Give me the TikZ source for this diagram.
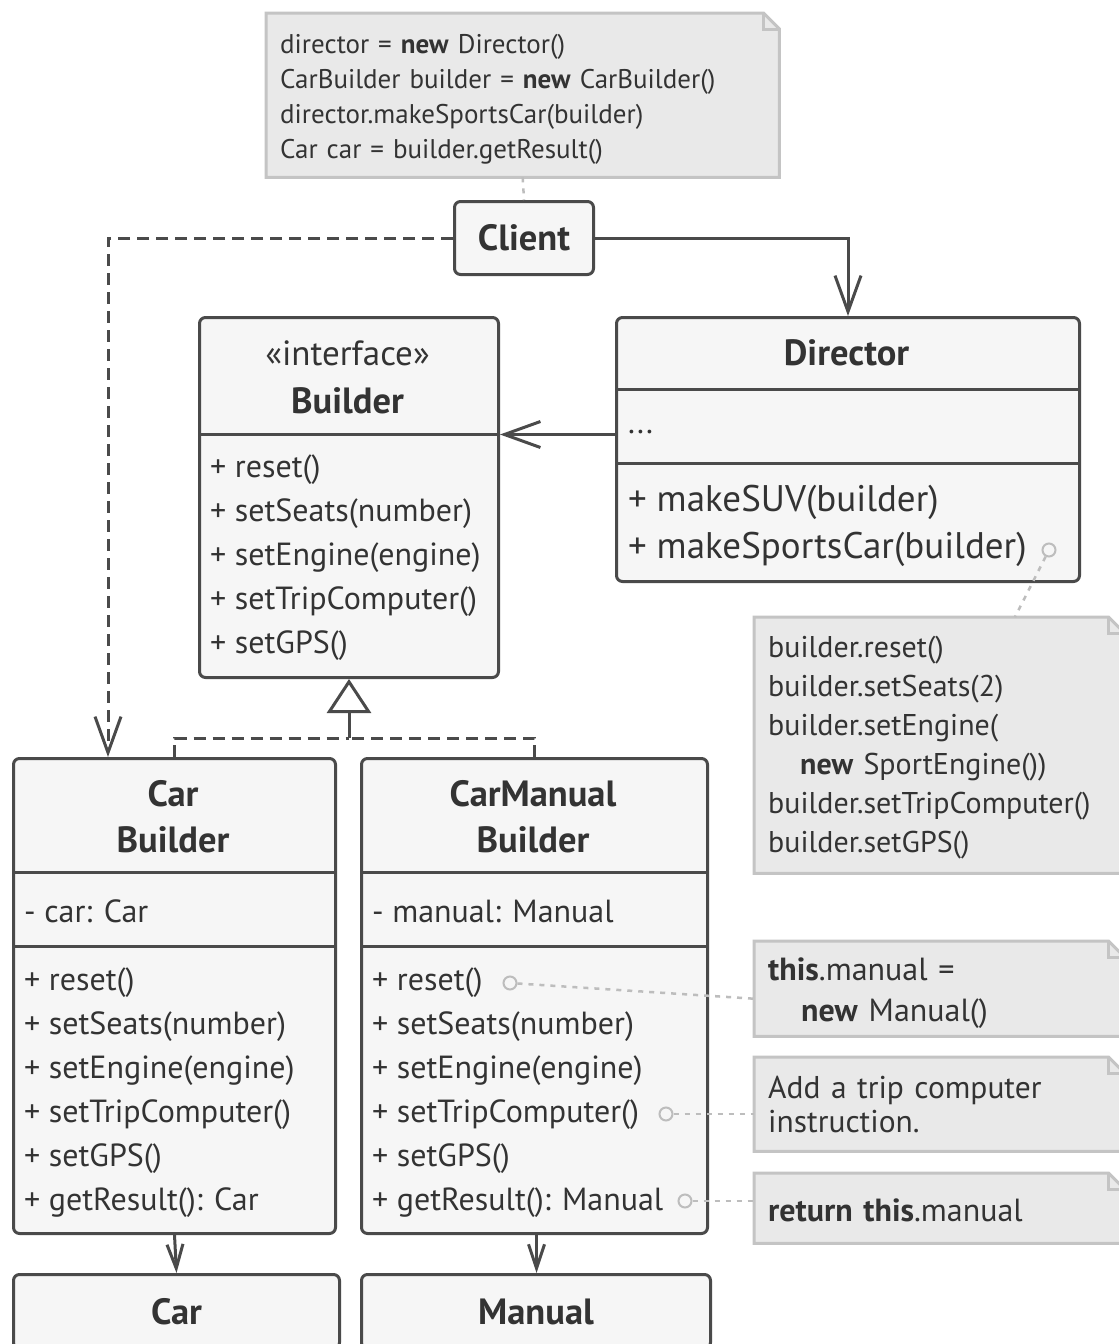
\documentclass[tikz,border=0pt]{standalone}
\usepackage{fontspec}
\setmainfont{PT Sans}
\usetikzlibrary{arrows.meta,calc,backgrounds}
\definecolor{ink}{HTML}{333333}
\definecolor{edge}{HTML}{4A4A4A}
\definecolor{boxfill}{HTML}{F6F6F6}
\definecolor{notefill}{HTML}{E9E9E9}
\definecolor{noteedge}{HTML}{C4C4C4}
\definecolor{dotc}{HTML}{BDBDBD}
\newcommand{\nstrut}[1]{\rule{0pt}{#1}}
\tikzset{
  cls/.style={draw=edge, fill=boxfill, line width=3pt, rounded corners=6pt, anchor=north west, inner sep=0pt},
  divider/.style={draw=edge, line width=3pt},
  hdr/.style={font=\fontsize{36.5}{40}\selectfont\bfseries, text=ink, inner sep=0pt},
  stereo/.style={font=\fontsize{35}{40}\selectfont, text=ink, inner sep=0pt},
  mth/.style={font=\fontsize{32}{36}\selectfont, text=ink, inner sep=0pt, anchor=west},
  bigmth/.style={font=\fontsize{37}{40}\selectfont, text=ink, inner sep=0pt, anchor=west},
  note/.style={anchor=north west, inner xsep=14pt, inner ysep=0pt, align=left, text=ink},
  notebg/.style={fill=notefill, draw=noteedge, line width=3pt, line join=miter},
  conn/.style={draw=edge, line width=3pt},
  dashcon/.style={conn, dash pattern=on 12pt off 7pt},
  openv/.style={-{Straight Barb[length=36pt,width=26pt]}},
  smallv/.style={-{Straight Barb[length=24pt,width=16pt]}},
  circ/.style={circle, draw=dotc, line width=2pt, minimum size=13pt, inner sep=0pt},
  dotcon/.style={draw=dotc, line width=2.5pt, dash pattern=on 5pt off 6pt},
}
\newcommand{\mknote}[1]{%
  \path[notebg] (#1.north west) -- ([xshift=-16pt]#1.north east) -- ([yshift=-16pt]#1.north east) -- (#1.south east) -- (#1.south west) -- cycle;
  \draw[draw=noteedge, line width=3pt] ([xshift=-16pt]#1.north east) -- ([xshift=-16pt,yshift=-16pt]#1.north east) -- ([yshift=-16pt]#1.north east);}
\begin{document}
\begin{tikzpicture}[x=1pt,y=-1pt]
\useasboundingbox (0,0) rectangle (1119,1344);

% ---------- notes ----------
\node[note, font=\fontsize{27}{35}\selectfont, text width=485pt, minimum height=164pt] (n1) at (266,13)
  {\nstrut{28pt}director = \textbf{new} Director()\\CarBuilder builder = \textbf{new} CarBuilder()\\director.makeSportsCar(builder)\\Car car = builder.getResult()};
\node[note, font=\fontsize{30}{39}\selectfont, text width=342pt, minimum height=256pt] (n2) at (754,617)
  {\nstrut{27pt}builder.reset()\\builder.setSeats(2)\\builder.setEngine(\\\hspace*{32pt}\textbf{new} SportEngine())\\builder.setTripComputer()\\builder.setGPS()};
\node[note, font=\fontsize{32}{41}\selectfont, text width=342pt, minimum height=95pt] (n3) at (754,941)
  {\nstrut{32pt}\textbf{this}.manual =\\\hspace*{33pt}\textbf{new} Manual()};
\node[note, font=\fontsize{31.5}{34}\selectfont, text width=342pt, minimum height=94pt] (n4) at (754,1057)
  {Add a trip computer\\instruction.};
\node[note, font=\fontsize{32}{36}\selectfont, text width=342pt, minimum height=70pt] (n5) at (754,1173)
  {\nstrut{27pt}\textbf{return this}.manual};
\begin{scope}[on background layer]
  \fill[white] (0,0) rectangle (1119,1344);
  \mknote{n1}\mknote{n2}\mknote{n3}\mknote{n4}\mknote{n5}
\end{scope}

% ---------- Client ----------
\node[cls, minimum width=139pt, minimum height=73pt] (client) at (453,200) {};
\node[hdr] (clientT) at (client.center) {Client};

% ---------- Builder ----------
\node[cls, minimum width=299pt, minimum height=360pt] (builder) at (198,316) {};
\draw[divider] ($(builder.north west)+(0,118)$) -- ($(builder.north east)+(0,118)$);
\node[stereo] (bS) at (347.5,353) {«interface»};
\node[hdr] (bT) at (347.5,401) {Builder};
\foreach \t [count=\i] in {{+ reset()},{+ setSeats(number)},{+ setEngine(engine)},{+ setTripComputer()},{+ setGPS()}}
  \node[mth] (bm\i) at (210,{426+44*\i}) {\t};

% ---------- Director ----------
\node[cls, minimum width=463pt, minimum height=264pt] (director) at (615,316) {};
\draw[divider] ($(director.north west)+(0,73)$) -- ($(director.north east)+(0,73)$);
\draw[divider] ($(director.north west)+(0,147)$) -- ($(director.north east)+(0,147)$);
\node[hdr] (dT) at (846.5,353) {Director};
\node[mth] (dA) at (628,432) {...};
\node[bigmth] (dm1) at (628,502) {+ makeSUV(builder)};
\node[bigmth] (dm2) at (628,549) {+ makeSportsCar(builder)};
\node[circ] (c1) at (1049,550) {};

% ---------- CarBuilder ----------
\node[cls, minimum width=322pt, minimum height=475pt] (carb) at (12,757) {};
\draw[divider] ($(carb.north west)+(0,115)$) -- ($(carb.north east)+(0,115)$);
\draw[divider] ($(carb.north west)+(0,189)$) -- ($(carb.north east)+(0,189)$);
\node[hdr] (cbT1) at (173,794) {Car};
\node[hdr] (cbT2) at (173,840) {Builder};
\node[mth] (cbA) at (24,911) {- car: Car};
\foreach \t [count=\i] in {{+ reset()},{+ setSeats(number)},{+ setEngine(engine)},{+ setTripComputer()},{+ setGPS()},{+ getResult(): Car}}
  \node[mth] (cbm\i) at (24,{939+44*\i}) {\t};

% ---------- CarManualBuilder ----------
\node[cls, minimum width=346pt, minimum height=475pt] (cmb) at (360,757) {};
\draw[divider] ($(cmb.north west)+(0,115)$) -- ($(cmb.north east)+(0,115)$);
\draw[divider] ($(cmb.north west)+(0,189)$) -- ($(cmb.north east)+(0,189)$);
\node[hdr] (cmT1) at (533,794) {CarManual};
\node[hdr] (cmT2) at (533,840) {Builder};
\node[mth] (cmA) at (372,911) {- manual: Manual};
\foreach \t [count=\i] in {{+ reset()},{+ setSeats(number)},{+ setEngine(engine)},{+ setTripComputer()},{+ setGPS()},{+ getResult(): Manual}}
  \node[mth] (cmm\i) at (372,{939+44*\i}) {\t};
\node[circ] (c2) at (510,983) {};
\node[circ] (c3) at (666,1114) {};
\node[circ] (c4) at (685,1201) {};

% ---------- Car / Manual ----------
\node[cls, minimum width=326pt, minimum height=74pt] (car) at (12,1273) {};
\node[hdr] (carT) at (car.center) {Car};
\node[cls, minimum width=349pt, minimum height=74pt] (manual) at (360,1273) {};
\node[hdr] (manT) at (manual.center) {Manual};

% ---------- connectors ----------
\draw[dotcon] (n1.south) -- (client.north);
\draw[dashcon, openv] (client.west) -| ([xshift=96pt]carb.north west);
\draw[conn, openv] (client.east) -| (director.north);
\path ([yshift=15pt]director.west) coordinate (dw);
\draw[conn, openv] (dw) -- (builder.east |- dw);
\coordinate (junc) at ($(builder.south)+(0,59)$);
\draw[dashcon] (carb.north) |- (junc);
\draw[dashcon] (cmb.north) |- (junc);
\draw[conn, -{Triangle[open,length=34pt,width=44pt]}] (junc) -- (builder.south);
\draw[conn, smallv] (carb.south) -- (car.north);
\draw[conn, smallv] ([xshift=2pt]cmb.south) -- ([xshift=0.5pt]manual.north);
\draw[dotcon] (c1) -- ([xshift=261pt]n2.north west);
\draw[dotcon] (c2) -- ([yshift=-10pt]n3.west);
\draw[dotcon] (c3) -- (c3 -| n4.west);
\draw[dotcon] (c4) -- (c4 -| n5.west);
\end{tikzpicture}
\end{document}
